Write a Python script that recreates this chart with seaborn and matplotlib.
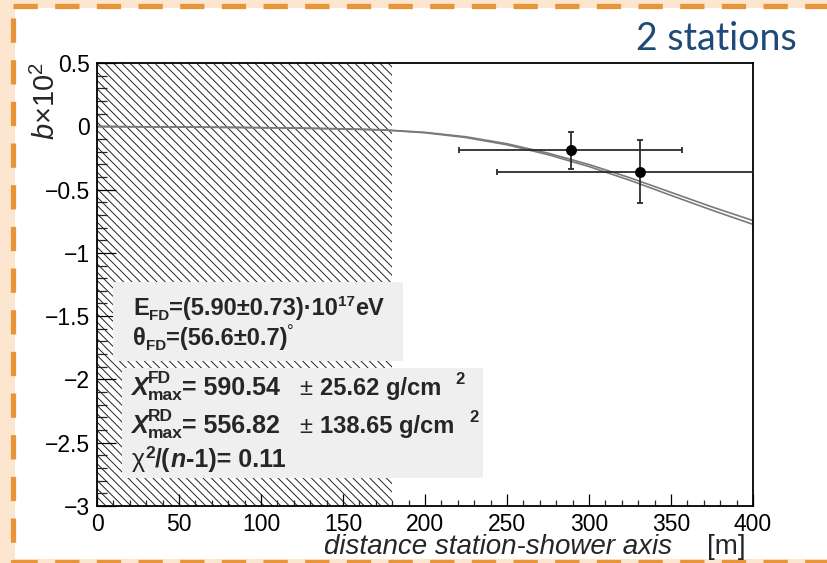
import numpy as np
import pandas as pd
import matplotlib
matplotlib.use("Agg")
import matplotlib.pyplot as plt
import seaborn as sns
from matplotlib.patches import Rectangle
from matplotlib.lines import Line2D
from matplotlib.ticker import MultipleLocator, FixedLocator, FixedFormatter

# ---------------- data ----------------
curve_x = [0, 25, 50, 75, 100, 125, 150, 175, 200, 225, 250, 275, 300, 325, 350, 375, 400]
curve_upper = [-0.002, -0.004, -0.006, -0.008, -0.011, -0.015, -0.020, -0.028, -0.048,
               -0.083, -0.138, -0.212, -0.302, -0.407, -0.522, -0.637, -0.745]
curve_lower = [-0.002, -0.004, -0.006, -0.008, -0.011, -0.015, -0.021, -0.030, -0.051,
               -0.089, -0.146, -0.224, -0.318, -0.427, -0.546, -0.663, -0.775]
station_dist = [289, 331]
station_b = [-0.19, -0.36]
station_dist_err = [68, 87]
station_b_err = [0.145, 0.25]
excluded_range = [0, 180]
xticks = [0, 50, 100, 150, 200, 250, 300, 350, 400]
xtick_labels = ["0", "50", "100", "150", "200", "250", "300", "350", "400"]
yticks = [0.5, 0, -0.5, -1, -1.5, -2, -2.5, -3]
ytick_labels = ["0.5", "0", "\u22120.5", "\u22121", "\u22121.5", "\u22122", "\u22122.5", "\u22123"]

W, H = 827, 563

sns.set_theme(style="white")
plt.rcParams["font.family"] = ["Liberation Sans", "DejaVu Sans"]
plt.rcParams["mathtext.fontset"] = "custom"
plt.rcParams["mathtext.rm"] = "Liberation Sans"
plt.rcParams["mathtext.it"] = "Liberation Sans:italic"
plt.rcParams["mathtext.bf"] = "Liberation Sans:bold"
plt.rcParams["hatch.linewidth"] = 0.7
plt.rcParams["lines.scale_dashes"] = False

fig = plt.figure(figsize=(W / 100, H / 100), dpi=100)
PEACH = "#fde6cf"
ORANGE = "#e8953a"
fig.patch.set_facecolor(PEACH)
renderer = fig.canvas.get_renderer()


def P(x, y):
    return (x / W, 1 - y / H)


def chain(x, y, segs):
    """Draw consecutive text pieces starting at pixel (x, baseline y)."""
    cx = x
    for s, size, kw, dy, adv in segs:
        t = fig.text(*P(cx, y + dy), s, fontsize=size, va="baseline", zorder=6, **kw)
        if adv:
            cx += t.get_window_extent(renderer).width
    return cx


# white inner panel
x0, y0 = P(15, 559)
fig.add_artist(Rectangle((x0, y0), 1 - x0, (559 - 8) / H, transform=fig.transFigure,
                         facecolor="white", edgecolor="none", zorder=-5))
# dashed orange frame
dash = (0, (17.5, 12.5))
fig.add_artist(Line2D([13 / W, 1], [1 - 5.5 / H] * 2, transform=fig.transFigure,
                      color=ORANGE, lw=3.8, linestyle=dash, zorder=-4))
fig.add_artist(Line2D([12.5 / W] * 2, [1 - 18 / H, 0], transform=fig.transFigure,
                      color=ORANGE, lw=3.8, linestyle=dash, zorder=-4))
fig.add_artist(Line2D([13 / W, 1], [1 - 561.5 / H] * 2, transform=fig.transFigure,
                      color=ORANGE, lw=3.8, linestyle=dash, zorder=-4))

ax = fig.add_axes([97 / W, 1 - 506 / H, 656 / W, 443 / H])
ax.set_facecolor("white")

# excluded hatched region
ax.axvspan(excluded_range[0], excluded_range[1], facecolor="none", edgecolor="#222222",
           hatch="\\\\\\\\", linewidth=0, zorder=0.5)

df = pd.DataFrame({"x": curve_x * 2, "b": curve_upper + curve_lower,
                   "curve": ["up"] * len(curve_x) + ["low"] * len(curve_x)})
sns.lineplot(data=df, x="x", y="b", units="curve", estimator=None, color="#7a7a7a",
             lw=1.2, ax=ax, zorder=2, legend=False)

ax.errorbar(station_dist, station_b, xerr=station_dist_err, yerr=station_b_err, fmt="none",
            ecolor="#2b2b2b", elinewidth=1.3, capsize=2.2, capthick=1.3, zorder=3)
sns.scatterplot(x=station_dist, y=station_b, color="black", s=62, edgecolor="black",
                linewidth=0, ax=ax, zorder=4)

ax.set_xlim(0, 400)
ax.set_ylim(-3, 0.5)
ax.xaxis.set_major_locator(FixedLocator(xticks))
ax.xaxis.set_major_formatter(FixedFormatter(xtick_labels))
ax.yaxis.set_major_locator(FixedLocator(yticks))
ax.yaxis.set_major_formatter(FixedFormatter(ytick_labels))
ax.xaxis.set_minor_locator(MultipleLocator(10))
ax.yaxis.set_minor_locator(MultipleLocator(0.1))
ax.tick_params(axis="x", which="major", direction="in", length=9, width=0.9, pad=5,
               labelsize=16.5, bottom=True, top=False, colors="black")
ax.tick_params(axis="x", which="minor", direction="in", length=4.5, width=0.9,
               bottom=True, top=False)
ax.tick_params(axis="y", which="major", direction="in", length=14, width=0.9, pad=5,
               labelsize=16.5, left=True, right=False, colors="black")
ax.tick_params(axis="y", which="minor", direction="in", length=7, width=0.9,
               left=True, right=False)
for s in ax.spines.values():
    s.set_color("black")
    s.set_linewidth(1.3)
ax.set_xlabel("")
ax.set_ylabel("")

# axis titles
fig.text(*P(46, 62), r"$b$×10$^{2}$", rotation=90, ha="center", va="top", fontsize=21)
fig.text(*P(672, 554), "distance station-shower axis", ha="right", va="baseline",
         fontsize=20, style="italic")
fig.text(*P(746, 554), "[m]", ha="right", va="baseline", fontsize=20)

# title
fig.text(*P(797, 50), "2 stations", ha="right", va="baseline", fontsize=27,
         color="#1d4a78", family=["Lato", "DejaVu Sans"])

# info boxes
BOX = "#efefef"
bx, by = P(113, 361)
fig.add_artist(Rectangle((bx, by), (403 - 113) / W, (361 - 282) / H,
                         transform=fig.transFigure, facecolor=BOX, edgecolor="none", zorder=5))
bx, by = P(122, 478)
fig.add_artist(Rectangle((bx, by), (483 - 122) / W, (478 - 368) / H,
                         transform=fig.transFigure, facecolor=BOX, edgecolor="none", zorder=5))

B = {"weight": "bold"}
BI = {"weight": "bold", "style": "italic"}
N = {}
chain(133, 315, [("E", 17, B, 0, True), ("FD", 11, B, 5, True),
                 ("=(5.90±0.73)·10", 17, B, 0, True), ("17", 11, B, -9, True),
                 ("eV", 17, B, 0, True)])
chain(133, 345, [("θ", 17, B, 0, True), ("FD", 11, B, 5, True),
                 ("=(56.6±0.7)", 17, B, 0, True), ("°", 12, N, -8, True)])

chain(131, 395, [("X", 18, BI, 0, True), ("FD", 12.5, B, -12, False),
                 ("max", 12.5, B, 5, True), ("= 590.54", 18, B, 0, True)])
chain(300, 395, [("± ", 17, N, 0, True), ("25.62 g/cm", 17, B, 0, True)])
fig.text(*P(455, 384), "2", fontsize=12, weight="bold", va="baseline", zorder=6)

chain(131, 433, [("X", 18, BI, 0, True), ("RD", 12.5, B, -12, False),
                 ("max", 12.5, B, 5, True), ("= 556.82", 18, B, 0, True)])
chain(300, 433, [("± ", 17, N, 0, True), ("138.65 g/cm", 17, B, 0, True)])
fig.text(*P(469, 422), "2", fontsize=12, weight="bold", va="baseline", zorder=6)

chain(132, 467, [("χ", 18, N, 0, True), ("2", 12.5, B, -9, True), ("/(", 18, B, 0, True),
                 ("n", 18, BI, 0, True), ("-1)= 0.11", 18, B, 0, True)])

fig.savefig("out.png", dpi=100, facecolor=fig.get_facecolor())
